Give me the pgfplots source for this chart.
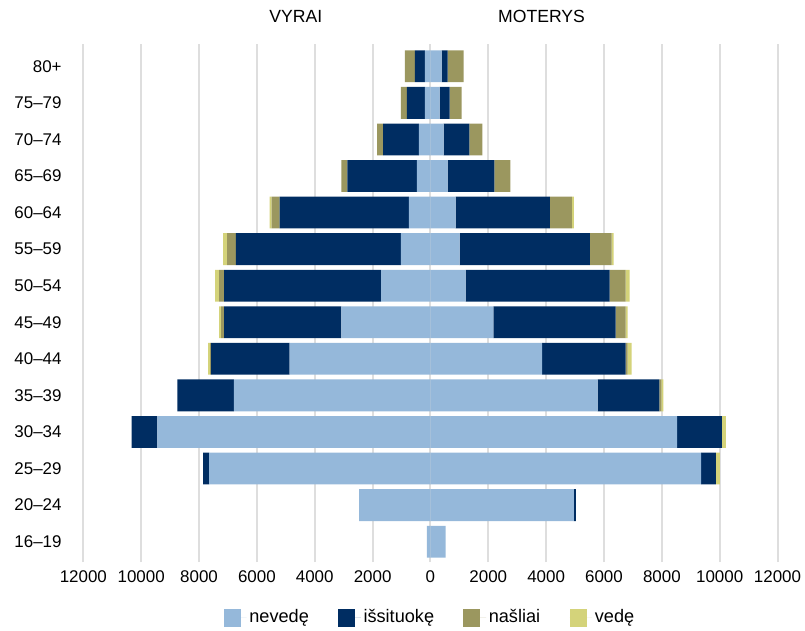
\documentclass[border=0pt]{standalone}
\usepackage{fontspec}
\setmainfont{Liberation Sans}
\usepackage{pgfplots}
\usepackage{pgfplotstable}
\pgfplotsset{compat=1.18}

\definecolor{cNev}{RGB}{149,184,218}
\definecolor{cIsi}{RGB}{0,45,98}
\definecolor{cNas}{RGB}{155,151,95}
\definecolor{cVed}{RGB}{212,211,122}

% vyrai (men), drawn to the left
\pgfplotstableread{
y nev isi nas ved
0 127 0 0 0
1 2464 0 0 0
2 7652 206 0 0
3 9439 893 0 0
4 6793 1958 0 0
5 4869 2714 30 69
6 3082 4054 103 69
7 1708 5429 172 137
8 1020 5704 309 137
9 746 4467 275 69
10 471 2405 206 0
11 402 1237 206 0
12 196 618 206 0
13 196 344 344 0
}\men

% moterys (women), drawn to the right
\pgfplotstableread{
y nev isi nas ved
0 526 0 0 0
1 4958 69 0 0
2 9356 515 0 137
3 8532 1546 0 137
4 5783 2130 69 69
5 3859 2886 69 137
6 2175 4226 344 69
7 1213 4982 550 137
8 1007 4501 756 69
9 869 3264 756 69
10 594 1615 550 0
11 457 893 447 0
12 320 344 412 0
13 388 206 550 0
}\women

\pgfplotsset{
  pyr/.style={
    scale only axis, width=520.5pt, height=388.5pt,
    xmin=-12000, xmax=12000, ymin=-0.56, ymax=13.61,
    xbar stacked, bar width=0.87, clip=false,
  },
}

\begin{document}
\begin{tikzpicture}[font=\fontsize{12.7}{15}\selectfont]
\begin{axis}[pyr,
    axis line style={draw=none},
    major tick length=0,
    scaled x ticks=false,
    xmajorgrids,
    grid style={color=black!13, line width=1.5pt},
    xtick={-12000,-10000,...,12000},
    xticklabels={12000,10000,8000,6000,4000,2000,0,2000,4000,6000,8000,10000,12000},
    ytick={0,...,13},
    yticklabels={16--19,20--24,25--29,30--34,35--39,40--44,45--49,50--54,55--59,60--64,65--69,70--74,75--79,80+},
    yticklabel style={xshift=-12.8pt},
    xticklabel style={yshift=-3pt},
  ]
  \addplot[fill=cNev, draw=none] table[x expr=-\thisrow{nev}, y=y]{\men};
  \addplot[fill=cIsi, draw=none] table[x expr=-\thisrow{isi}, y=y]{\men};
  \addplot[fill=cNas, draw=none] table[x expr=-\thisrow{nas}, y=y]{\men};
  \addplot[fill=cVed, draw=none] table[x expr=-\thisrow{ved}, y=y]{\men};
  \coordinate (sw) at (rel axis cs:0,0);
  \coordinate (ne) at (rel axis cs:1,1);
  \node[font=\fontsize{13.2}{15}\selectfont] at (axis cs:-4654,13.61) [yshift=21pt] {VYRAI};
  \node[font=\fontsize{13.2}{15}\selectfont] at (axis cs:3840,13.61) [yshift=21pt] {MOTERYS};
\end{axis}
\begin{axis}[pyr,
    hide axis,
    legend columns=4,
    legend image code/.code={\path (0pt,0pt) -- (17pt,0pt);
      \fill[#1] (0pt,-7pt) rectangle (12.75pt,6.5pt);},
    legend style={at={(0.5,0)}, anchor=north, yshift=-31.5pt, draw=none,
      font=\fontsize{13.6}{16}\selectfont,
      /tikz/every even column/.append style={column sep=20pt}},
  ]
  \addplot[fill=cNev, draw=none] table[x=nev, y=y]{\women};
  \addplot[fill=cIsi, draw=none] table[x=isi, y=y]{\women};
  \addplot[fill=cNas, draw=none] table[x=nas, y=y]{\women};
  \addplot[fill=cVed, draw=none] table[x=ved, y=y]{\women};
  \legend{nevedę,išsituokę,našliai,vedę}
\end{axis}
\pgfresetboundingbox
\path ([xshift=-62.5pt, yshift=-51pt]sw) rectangle ([xshift=20.6pt, yshift=33pt]ne);
\end{tikzpicture}
\end{document}
